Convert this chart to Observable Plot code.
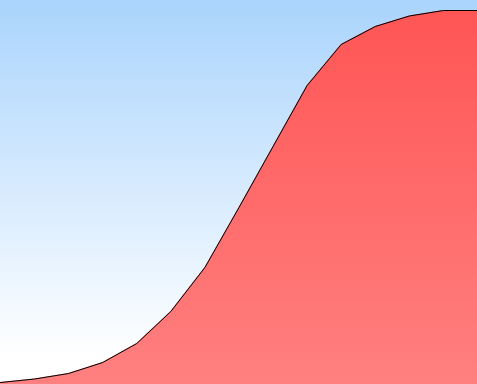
<!DOCTYPE html>
<html>
<head>
<meta charset="utf-8">
<script src="https://cdn.jsdelivr.net/npm/d3@7"></script>
<script src="https://cdn.jsdelivr.net/npm/@observablehq/plot@0.6"></script>
<style>
  html, body { margin: 0; padding: 0; background: #fff; }
  #chart svg { display: block; }
</style>
</head>
<body>
<div id="chart"></div>
<script>
// Data
const steps = [0, 1, 2, 3, 4, 5, 6, 7, 8, 9, 10, 11, 12, 13, 14];
const values = [2, 5.5, 11, 22, 41, 73, 117, 177, 238, 299, 340, 358, 368.5, 374, 374];

const data = steps.map((s, i) => ({x: s, y: values[i]}));

const defs = () => {
  const ns = "http://www.w3.org/2000/svg";
  const d = document.createElementNS(ns, "defs");
  d.innerHTML = `
    <linearGradient id="bgGrad" x1="0" y1="0" x2="0" y2="1">
      <stop offset="0" stop-color="#aad4fc"/>
      <stop offset="0.93" stop-color="#ffffff"/>
      <stop offset="1" stop-color="#ffffff"/>
    </linearGradient>
    <linearGradient id="areaGrad" x1="0" y1="0" x2="0" y2="1">
      <stop offset="0" stop-color="#ff5555"/>
      <stop offset="1" stop-color="#ff8080"/>
    </linearGradient>`;
  return d;
};

const chart = Plot.plot({
  width: 477,
  height: 384,
  margin: 0,
  x: {domain: [0, 14], range: [0, 477], axis: null},
  y: {domain: [0, 384], range: [384, 0], axis: null},
  style: {background: "transparent", overflow: "visible"},
  marks: [
    defs,
    Plot.frame({fill: "url(#bgGrad)", stroke: null, inset: -1}),
    Plot.areaY(data, {x: "x", y: "y", fill: "url(#areaGrad)", curve: "linear"}),
    Plot.lineY(data, {x: "x", y: "y", stroke: "#000", strokeWidth: 1, curve: "linear"})
  ]
});
document.getElementById("chart").appendChild(chart);
</script>
</body>
</html>
